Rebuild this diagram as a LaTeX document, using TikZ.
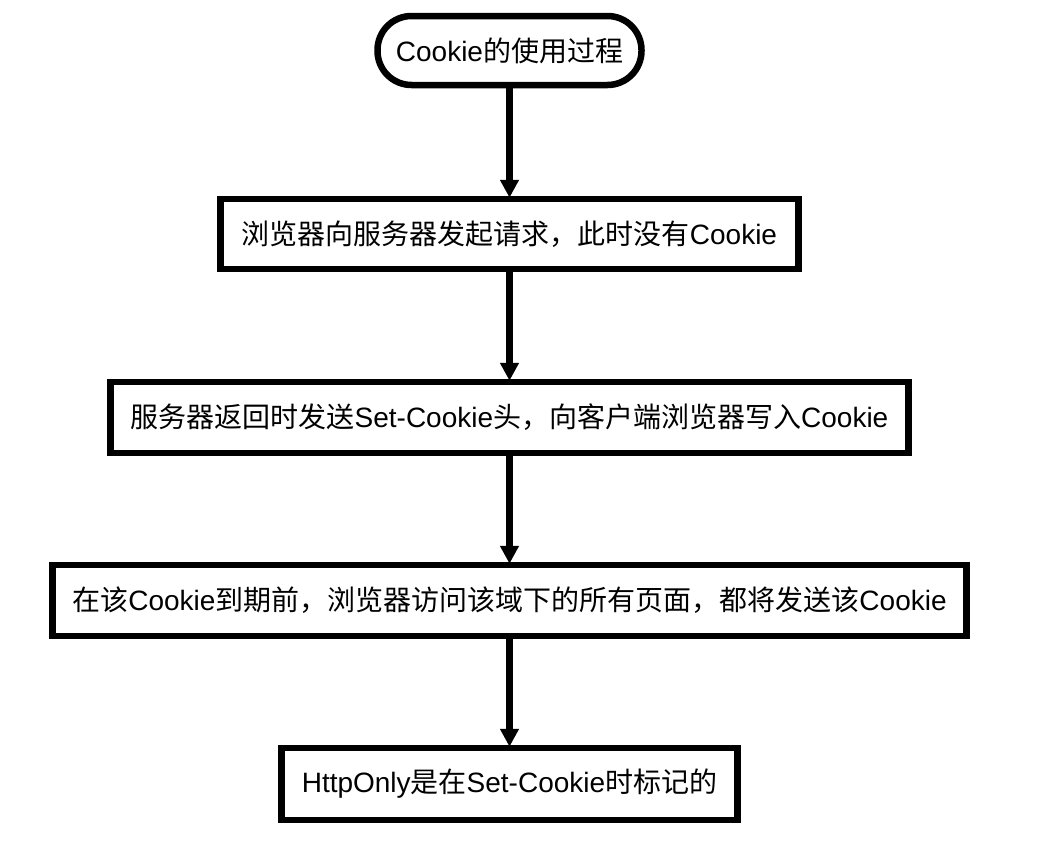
\documentclass[tikz,border=0pt]{standalone}
\usepackage{fontspec}
\setmainfont{Liberation Sans}
\newfontfamily\cjk{Noto Sans CJK SC}
\usetikzlibrary{arrows.meta}
\begin{document}
\begin{tikzpicture}[x=1pt,y=-1pt,
  every node/.style={font=\fontsize{28}{32}\selectfont, align=center, inner sep=0pt},
  boxnode/.style={draw=black, line width=6.5pt, fill=white},
  flow/.style={line width=7pt, -{Triangle[width=18pt,length=18pt]}, shorten >=-2pt}]
\useasboundingbox (0,0) rectangle (1058,846);
\node[boxnode, rounded corners=34pt, minimum width=264pt, minimum height=69pt] (s) at (509.5,50.5) {Cookie{\cjk 的使用过程}};
\node[boxnode, minimum width=578pt, minimum height=70pt] (b1) at (509.5,234) {{\cjk 浏览器向服务器发起请求，此时没有}Cookie};
\node[boxnode, minimum width=798pt, minimum height=71pt] (b2) at (509.5,417.5) {{\cjk 服务器返回时发送}Set-Cookie{\cjk 头，向客户端浏览器写入}Cookie};
\node[boxnode, minimum width=914pt, minimum height=71pt] (b3) at (509.5,600.5) {{\cjk 在该}Cookie{\cjk 到期前，浏览器访问该域下的所有页面，都将发送该}Cookie};
\node[boxnode, minimum width=456pt, minimum height=72pt] (b4) at (509.5,784) {HttpOnly{\cjk 是在}Set-Cookie{\cjk 时标记的}};
\draw[flow] (s.south) -- (b1.north);
\draw[flow] (b1.south) -- (b2.north);
\draw[flow] (b2.south) -- (b3.north);
\draw[flow] (b3.south) -- (b4.north);
\end{tikzpicture}
\end{document}
